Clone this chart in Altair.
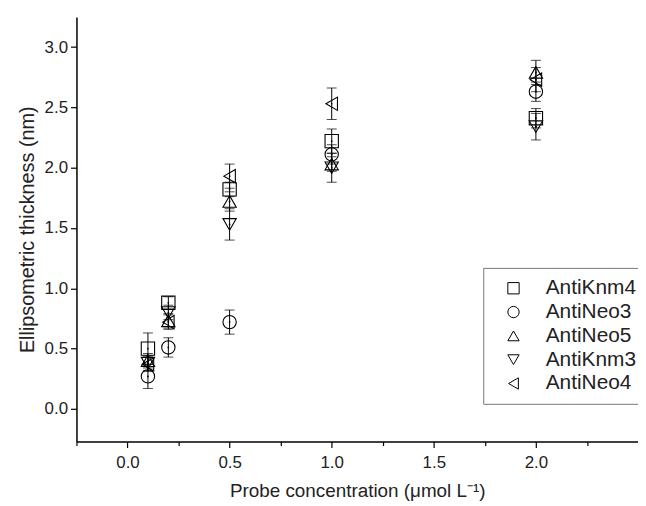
import altair as alt
import pandas as pd

series = ["AntiKnm4", "AntiNeo3", "AntiNeo5", "AntiKnm3", "AntiNeo4"]
conc = [0.1, 0.2, 0.5, 1.0, 2.0]
thick = {
    "AntiKnm4": [0.50, 0.88, 1.82, 2.22, 2.41],
    "AntiNeo3": [0.27, 0.51, 0.72, 2.11, 2.63],
    "AntiNeo5": [0.40, 0.73, 1.72, 2.03, 2.79],
    "AntiKnm3": [0.38, 0.80, 1.53, 2.00, 2.34],
    "AntiNeo4": [0.37, 0.72, 1.93, 2.53, 2.73],
}
err = {
    "AntiKnm4": [0.13, 0.05, 0.06, 0.10, 0.08],
    "AntiNeo3": [0.10, 0.08, 0.10, 0.08, 0.08],
    "AntiNeo5": [0.06, 0.06, 0.08, 0.06, 0.10],
    "AntiKnm3": [0.06, 0.06, 0.13, 0.12, 0.11],
    "AntiNeo4": [0.06, 0.06, 0.10, 0.13, 0.10],
}
shapes = ["square", "circle", "triangle-up", "triangle-down", "triangle-left"]

rows = []
for s in series:
    for c, v, e in zip(conc, thick[s], err[s]):
        rows.append({"series": s, "x": c, "y": v, "lo": v - e, "hi": v + e})
df = pd.DataFrame(rows)

FONT = "Liberation Sans"
xs = alt.Scale(domain=[-0.25, 2.5], nice=False, zero=False)
ys = alt.Scale(domain=[-0.27, 3.25], nice=False, zero=False)

xticks = [i * 0.25 for i in range(-1, 10)]
yticks = [i * 0.25 for i in range(0, 13)]

xaxis = alt.Axis(
    title="Probe concentration (μmol L⁻¹)",
    values=xticks,
    labelExpr="datum.value % 0.5 == 0 ? format(datum.value, '.1f') : ''",
    tickSize={"condition": {"test": "datum.value % 0.5 == 0", "value": 6}, "value": 4},
    grid=False, domainColor="black", tickColor="black", domainWidth=1.5, tickWidth=1.2,
    labelFont=FONT, labelFontSize=17, labelColor="#222", labelPadding=7,
    titleFont=FONT, titleFontSize=19, titleFontWeight="normal", titleColor="#222",
    titlePadding=11,
)
yaxis = alt.Axis(
    title="Ellipsometric thickness (nm)",
    values=yticks,
    labelExpr="datum.value % 0.5 == 0 ? format(datum.value, '.1f') : ''",
    tickSize={"condition": {"test": "datum.value % 0.5 == 0", "value": 6}, "value": 4},
    grid=False, domainColor="black", tickColor="black", domainWidth=1.5, tickWidth=1.2,
    labelFont=FONT, labelFontSize=17, labelColor="#222", labelPadding=3,
    titleFont=FONT, titleFontSize=20, titleFontWeight="normal", titleColor="#222",
    titlePadding=7,
)

base = alt.Chart(df)

bars = base.mark_rule(color="black", strokeWidth=1).encode(
    x=alt.X("x:Q", scale=xs, axis=xaxis),
    y=alt.Y("lo:Q", scale=ys, axis=yaxis),
    y2="hi:Q",
)
cap_lo = base.mark_tick(color="black", orient="horizontal", size=10, thickness=1).encode(
    x="x:Q", y="lo:Q"
)
cap_hi = base.mark_tick(color="black", orient="horizontal", size=10, thickness=1).encode(
    x="x:Q", y="hi:Q"
)
pts = base.mark_point(filled=False, color="black", strokeWidth=1.1, size=180, opacity=1).encode(
    x="x:Q",
    y="y:Q",
    shape=alt.Shape(
        "series:N",
        scale=alt.Scale(domain=series, range=shapes),
        sort=series,
        legend=alt.Legend(
            title=None, orient="none", legendX=410, legendY=253,
            strokeColor="#777", padding=10, symbolSize=130,
            symbolStrokeColor="black", symbolFillColor="transparent",
            symbolStrokeWidth=1, labelFont=FONT, labelFontSize=21,
            labelColor="#222", rowPadding=2, labelOffset=22, symbolOffset=10,
            labelLimit=300,
        ),
    ),
)
dots = base.mark_point(filled=True, color="black", size=3, shape="circle", opacity=1).encode(
    x="x:Q", y="y:Q"
)

chart = alt.layer(bars, cap_lo, cap_hi, pts, dots).properties(
    width=566, height=428,
    autosize=alt.AutoSizeParams(type="none"),
    padding={"left": 69, "top": 7, "right": 0, "bottom": 62},
).configure_view(stroke=None)

chart.save("out.html", embed_options={"renderer": "svg", "actions": False})
